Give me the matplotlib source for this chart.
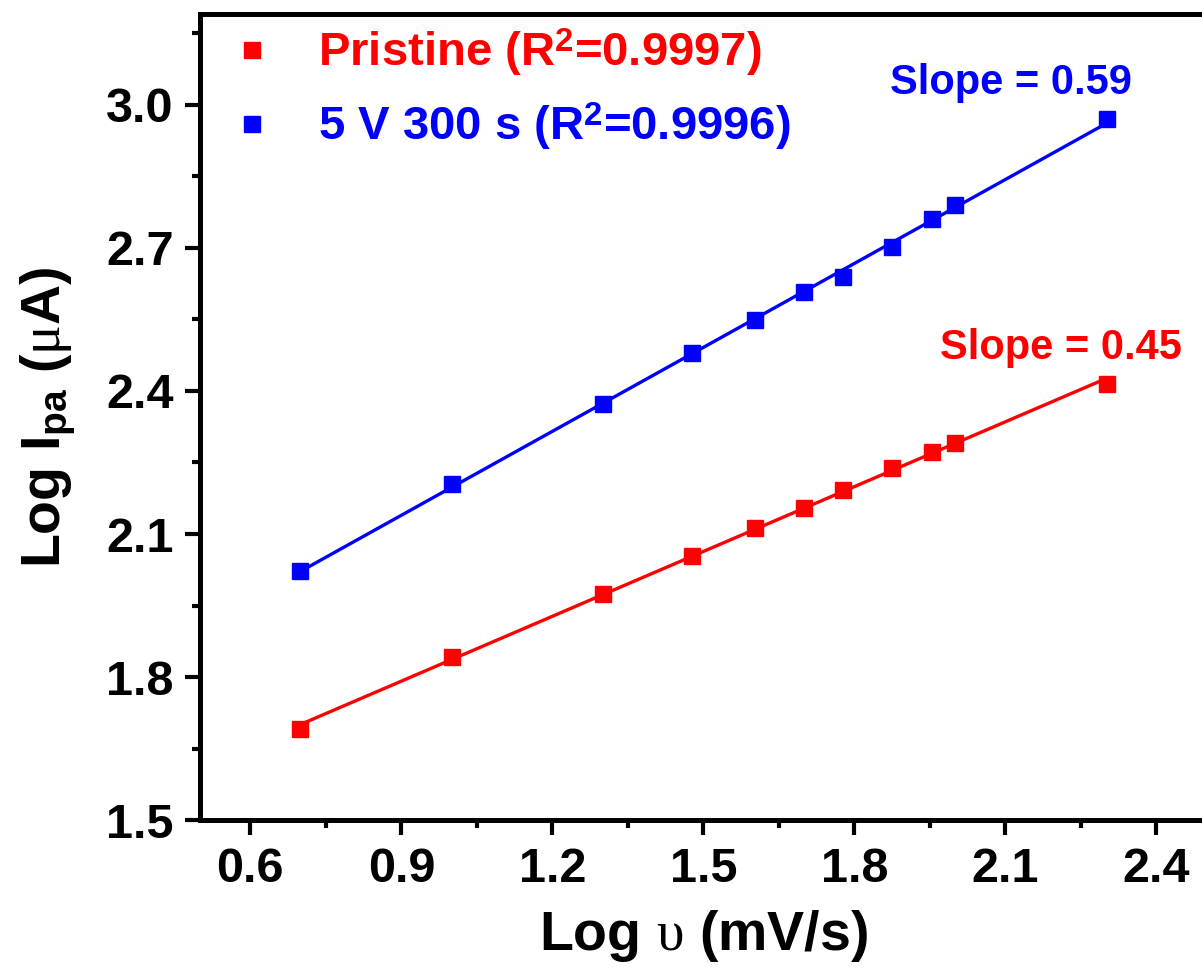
import matplotlib
matplotlib.use('Agg')
import matplotlib.pyplot as plt
import numpy as np

# %%
# log of scan rate (mV/s)
log_scan = [0.699, 1.0, 1.301, 1.477, 1.602, 1.699, 1.778, 1.875, 1.954, 2.0, 2.301]
pristine = [1.691, 1.842, 1.974, 2.054, 2.113, 2.155, 2.192, 2.238, 2.272, 2.291, 2.414]
treated = [2.022, 2.205, 2.373, 2.480, 2.549, 2.608, 2.639, 2.702, 2.761, 2.790, 2.970]

labels = [r'Pristine (R$^{\mathbf{2}}$=0.9997)', r'5 V 300 s (R$^{\mathbf{2}}$=0.9996)']
slope_text = ['Slope = 0.45', 'Slope = 0.59']
colors = ['#ff0000', '#0000ff']

# %%
plt.rcParams['font.family'] = ['Liberation Sans', 'DejaVu Sans']
plt.rcParams['font.weight'] = 'bold'
plt.rcParams['axes.labelweight'] = 'bold'
plt.rcParams['mathtext.fontset'] = 'custom'
plt.rcParams['mathtext.bf'] = 'Liberation Sans:bold'
plt.rcParams['mathtext.rm'] = 'Liberation Serif:normal'
plt.rcParams['mathtext.it'] = 'Liberation Serif:italic'

fig = plt.figure(figsize=(12.02, 9.76), dpi=100)
ax = fig.add_axes([0.1664, 0.1595, 0.8376, 0.8262])

x = np.array(log_scan)
for ys, c, lab in zip([pristine, treated], colors, labels):
    k, b = np.polyfit(x, ys, 1)
    ax.plot([x[0], x[-1]], [k * x[0] + b, k * x[-1] + b], color=c, lw=2.4, zorder=2)
    ax.plot(x, ys, 's', color=c, ms=12, label=lab, zorder=3)

ax.text(2.21, 2.49, slope_text[0], color=colors[0], fontsize=30, ha='center', va='center')
ax.text(2.111, 3.045, slope_text[1], color=colors[1], fontsize=30, ha='center', va='center')

ax.set_xlim(0.5, 2.5)
ax.set_ylim(1.5, 3.19)
ax.set_xticks([0.6, 0.9, 1.2, 1.5, 1.8, 2.1, 2.4])
ax.set_yticks([1.5, 1.8, 2.1, 2.4, 2.7, 3.0])
ax.set_xticks(np.arange(0.75, 2.5, 0.3), minor=True)
ax.set_yticks(np.arange(1.65, 3.19, 0.3), minor=True)
ax.tick_params(which='major', length=11, width=3, labelsize=35, pad=8)
ax.tick_params(which='minor', length=5.5, width=3)
for s in ax.spines.values():
    s.set_linewidth(3.6)

ax.set_xlabel(r'Log $\mathrm{υ}$ (mV/s)', fontsize=40, labelpad=12)
ax.set_ylabel(r'Log I$_{\mathbf{pa}}$ ($\mathrm{μ}$A)', fontsize=40, labelpad=20)

leg = ax.legend(loc='upper left', bbox_to_anchor=(0.0, 1.025), frameon=False, fontsize=34,
                handlelength=0.8, handletextpad=1.0, labelspacing=0.45, borderaxespad=0.3)
for t, c in zip(leg.get_texts(), colors):
    t.set_color(c)

plt.savefig('out.png', dpi=100)
